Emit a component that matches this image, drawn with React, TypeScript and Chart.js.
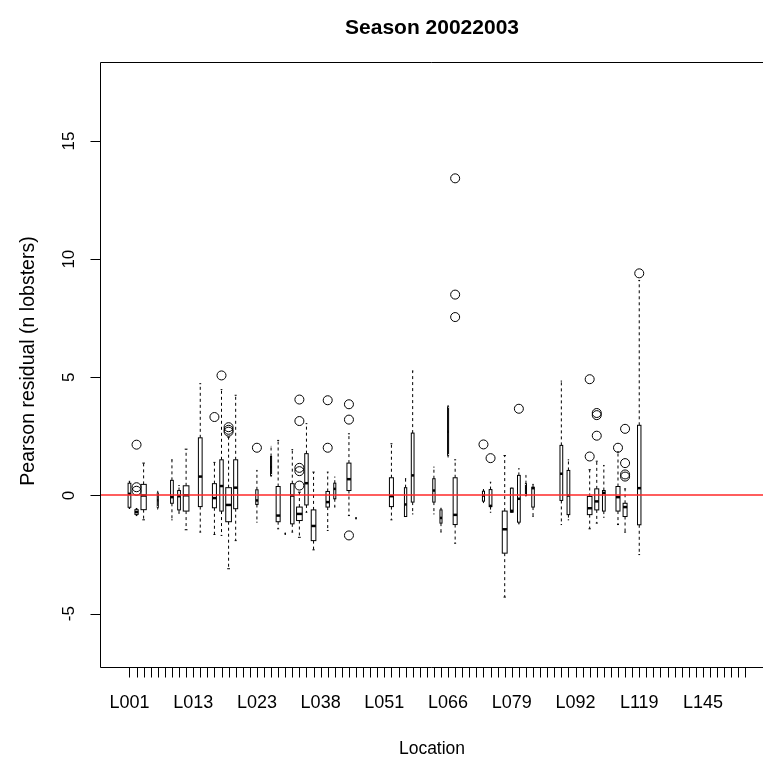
import React, { useEffect, useRef } from "react";
import { Chart, registerables } from "chart.js";

Chart.register(...registerables);

// ---------- DATA ----------
const locations = [
  "L001", "L002", "L003", "L004", "L006", "L007", "L008", "L010", "L011",
  "L013", "L014", "L015", "L016", "L017", "L018", "L019", "L020", "L021",
  "L023", "L025", "L026", "L028", "L029", "L031", "L032", "L034", "L036",
  "L038", "L039", "L041", "L042", "L044", "L045", "L047", "L048", "L049",
  "L051", "L052", "L054", "L056", "L057", "L059", "L060", "L062", "L064",
  "L066", "L067", "L069", "L070", "L072", "L073", "L075", "L076", "L077",
  "L079", "L080", "L082", "L083", "L085", "L086", "L088", "L089", "L091",
  "L092", "L095", "L098", "L101", "L104", "L107", "L110", "L113", "L116",
  "L119", "L122", "L125", "L128", "L131", "L134", "L137", "L140", "L143",
  "L145", "L147", "L149", "L151", "L153", "L155", "L157",
];

const xTickLabels = ["L001", "L013", "L023", "L038", "L051", "L066", "L079", "L092", "L119", "L145"];
const yTickValues = [-5, 0, 5, 10, 15];
const referenceLines = [0];

const boxLocations = [
  "L001", "L002", "L003", "L006", "L008", "L010", "L011",
  "L014", "L016", "L017", "L018", "L019",
  "L023", "L026", "L028", "L029", "L031", "L032", "L034", "L036",
  "L039", "L041", "L044", "L045",
  "L052", "L056", "L057", "L062", "L064",
  "L066", "L067", "L073", "L075", "L077",
  "L079", "L080", "L082", "L083", "L089", "L091",
  "L098", "L101", "L104", "L110", "L113", "L119",
];
const whiskerLow = [
  -0.55, -0.85, -1.03, -0.58, -1.03, -0.75, -1.45,
  -1.55, -1.65, -1.69, -3.1, -1.91,
  -1.13, 0.8, -1.41, -1.62, -1.55, -1.77, -0.71, -2.3,
  -1.48, -0.49, -0.85, -0.96,
  -1.03, -0.89, -0.78, -0.78, -1.55,
  1.62, -2.02, -0.3, -0.71, -4.3,
  -0.71, -1.2, -0.03, -0.89, -1.23, -1.03,
  -1.41, -1.17, -0.92, -1.23, -1.55, -2.5,
];
const lowerQuartile = [
  -0.5, -0.8, -0.6, -0.5, -0.33, -0.61, -0.66,
  -0.47, -0.52, -0.66, -1.11, -0.56,
  -0.38, 0.85, -1.11, -1.62, -1.2, -1.06, -0.4, -1.91,
  -0.49, -0.14, 0.21, -0.96,
  -0.47, -0.89, -0.28, -0.28, -1.17,
  1.7, -1.23, -0.24, -0.47, -2.44,
  -0.71, -1.13, 0.0, -0.49, -0.21, -0.81,
  -0.81, -0.61, -0.66, -0.66, -0.89, -1.24,
];
const medians = [
  0.07, -0.7, 0.0, -0.2, -0.07, -0.03, 0.01,
  0.8, -0.11, 0.4, -0.4, 0.33,
  -0.21, 1.2, -0.85, -1.62, 0.0, -0.78, 0.52, -1.29,
  -0.28, 0.28, 0.69, -0.96,
  -0.03, -0.38, 0.85, 0.21, -0.95,
  2.7, -0.82, 0.0, -0.44, -1.43,
  -0.65, -0.14, 0.3, 0.31, 0.92, 0.0,
  -0.54, -0.25, 0.11, -0.07, -0.49, 0.31,
];
const upperQuartile = [
  0.52, -0.6, 0.47, 0.1, 0.64, 0.21, 0.41,
  2.44, 0.5, 1.51, 0.33, 1.51,
  0.24, 1.65, 0.38, -1.62, 0.5, -0.49, 1.77, -0.61,
  0.17, 0.52, 1.37, -0.96,
  0.75, 0.33, 2.64, 0.71, -0.61,
  3.75, 0.75, 0.18, 0.25, -0.66,
  0.31, 0.85, 0.5, 0.35, 2.12, 1.06,
  -0.04, 0.28, 0.21, 0.38, -0.33, 2.97,
];
const whiskerHigh = [
  0.6, -0.55, 1.37, 0.18, 1.51, 0.42, 1.96,
  4.73, 1.4, 4.48, 2.47, 4.24,
  1.06, 2.08, 2.33, -1.62, 1.94, 0.14, 3.04, 0.99,
  0.99, 0.78, 2.61, -0.96,
  2.19, 0.71, 5.27, 1.2, -0.54,
  3.81, 1.51, 0.25, 0.56, 1.69,
  0.31, 1.13, 0.85, 0.47, 4.84, 1.51,
  1.09, 1.45, 1.27, 1.84, 0.28, 9.1,
];
const sampleSizes = [
  7, 10, 26, 1, 7, 7, 30,
  13, 15, 11, 30, 15,
  5, 1, 15, 1, 11, 30, 11, 20,
  11, 4, 15, 1,
  15, 5, 7, 5, 4,
  1, 15, 4, 7, 22,
  7, 7, 1, 6, 7, 7,
  20, 15, 7, 15, 15, 11,
];

const outlierLocations = [
  "L002", "L002", "L002", "L016", "L017", "L018", "L018", "L018", "L023",
  "L032", "L032", "L032", "L032", "L032", "L039", "L039",
  "L044", "L044", "L044", "L067", "L067", "L067", "L073", "L075", "L080",
  "L098", "L098", "L101", "L101", "L101", "L110",
  "L113", "L113", "L113", "L113", "L119",
];
const outlierValues = [
  2.15, 0.35, 0.2, 3.32, 5.08, 2.89, 2.78, 2.7, 2.02,
  4.06, 3.15, 1.17, 1.03, 0.42, 4.03, 2.02,
  3.86, 3.21, -1.69, 13.42, 8.5, 7.55, 2.16, 1.58, 3.67,
  4.92, 1.65, 3.49, 3.4, 2.53, 2.02,
  2.82, 1.37, 0.89, 0.8, 9.4,
];

const chartTitle = "Season 20022003";
const xTitle = "Location";
const yTitle = "Pearson residual (n lobsters)";

// ---------- DRAWING ----------
const FONT = "'Liberation Sans', Arial, sans-serif";

const boxPlugin = {
  id: "rBoxplot",
  beforeDatasetsDraw(chart: any) {
    const { ctx, scales } = chart;
    const x = scales.x;
    const y = scales.y;
    const step = x.getPixelForValue(1) - x.getPixelForValue(0);
    const maxN = Math.max(...sampleSizes);
    ctx.save();
    boxLocations.forEach((loc, i) => {
      const idx = locations.indexOf(loc);
      const cx = x.getPixelForValue(idx);
      const w = 0.8 * step * Math.sqrt(sampleSizes[i] / maxN);
      const yLo = y.getPixelForValue(whiskerLow[i]);
      const yQ1 = y.getPixelForValue(lowerQuartile[i]);
      const yMed = y.getPixelForValue(medians[i]);
      const yQ3 = y.getPixelForValue(upperQuartile[i]);
      const yHi = y.getPixelForValue(whiskerHigh[i]);
      ctx.strokeStyle = "#000";
      ctx.lineWidth = 1;
      // whiskers (dashed)
      ctx.setLineDash([3, 3]);
      ctx.beginPath();
      ctx.moveTo(cx, yQ1);
      ctx.lineTo(cx, yLo);
      ctx.moveTo(cx, yQ3);
      ctx.lineTo(cx, yHi);
      ctx.stroke();
      ctx.setLineDash([]);
      // staples
      ctx.beginPath();
      ctx.moveTo(cx - w / 4, yLo);
      ctx.lineTo(cx + w / 4, yLo);
      ctx.moveTo(cx - w / 4, yHi);
      ctx.lineTo(cx + w / 4, yHi);
      ctx.stroke();
      // box
      ctx.fillStyle = "#fff";
      ctx.fillRect(cx - w / 2, yQ3, w, yQ1 - yQ3);
      ctx.strokeRect(cx - w / 2, yQ3, w, yQ1 - yQ3);
      // median
      ctx.lineWidth = 2.5;
      ctx.beginPath();
      ctx.moveTo(cx - w / 2, yMed);
      ctx.lineTo(cx + w / 2, yMed);
      ctx.stroke();
    });
    ctx.restore();
  },
  afterDatasetsDraw(chart: any) {
    const { ctx, chartArea, scales } = chart;
    const y = scales.y;
    ctx.save();
    ctx.strokeStyle = "rgb(255,40,40)";
    ctx.lineWidth = 1.5;
    ctx.beginPath();
    referenceLines.forEach((v) => {
      const py = Math.floor(y.getPixelForValue(v));
      ctx.moveTo(chartArea.left, py);
      ctx.lineTo(chartArea.right, py);
    });
    ctx.stroke();
    ctx.restore();
  },
  afterDraw(chart: any) {
    const { ctx, chartArea, scales } = chart;
    const x = scales.x;
    const y = scales.y;
    const L = chartArea.left - 0.5;
    const T = chartArea.top - 0.5;
    const B = chartArea.bottom + 0.5;
    const R = chart.width;
    ctx.save();
    ctx.strokeStyle = "#000";
    ctx.lineWidth = 1;
    // frame (right side lies beyond the picture)
    ctx.beginPath();
    ctx.moveTo(R, T);
    ctx.lineTo(L, T);
    ctx.lineTo(L, B);
    ctx.lineTo(R, B);
    ctx.stroke();
    // y ticks
    ctx.beginPath();
    yTickValues.forEach((v) => {
      const py = Math.round(y.getPixelForValue(v)) + 0.5;
      ctx.moveTo(L, py);
      ctx.lineTo(L - 10, py);
    });
    // x ticks
    locations.forEach((_, i) => {
      const px = Math.round(x.getPixelForValue(i)) + 0.5;
      ctx.moveTo(px, B);
      ctx.lineTo(px, B + 10);
    });
    ctx.stroke();

    ctx.fillStyle = "#000";
    ctx.font = `17px ${FONT}`;
    // y tick labels (rotated)
    yTickValues.forEach((v) => {
      const py = y.getPixelForValue(v);
      ctx.save();
      ctx.translate(74, py);
      ctx.rotate(-Math.PI / 2);
      ctx.textAlign = "center";
      ctx.textBaseline = "alphabetic";
      ctx.fillText(String(v), 0, 0);
      ctx.restore();
    });
    // x tick labels
    ctx.font = `18px ${FONT}`;
    ctx.textAlign = "center";
    ctx.textBaseline = "alphabetic";
    locations.forEach((loc, i) => {
      if (xTickLabels.includes(loc)) {
        ctx.fillText(loc, x.getPixelForValue(i), 708);
      }
    });
    const midX = (chartArea.left + chart.width) / 2;
    // x title
    ctx.font = `17.5px ${FONT}`;
    ctx.fillText(xTitle, midX, 754);
    // y title
    ctx.save();
    ctx.font = `19.5px ${FONT}`;
    ctx.translate(34, (chartArea.top + chartArea.bottom) / 2 - 4);
    ctx.rotate(-Math.PI / 2);
    ctx.fillText(yTitle, 0, 0);
    ctx.restore();
    // main title
    ctx.font = `bold 21px ${FONT}`;
    ctx.fillText(chartTitle, midX, 34);
    ctx.restore();
  },
};

export default function App() {
  const ref = useRef<HTMLCanvasElement | null>(null);

  useEffect(() => {
    document.body.style.margin = "0";
    const canvas = ref.current;
    if (!canvas) return;
    const outlierPoints = outlierLocations.map((loc, i) => ({
      x: locations.indexOf(loc),
      y: outlierValues[i],
    }));
    const chart = new Chart(canvas, {
      type: "scatter",
      data: {
        datasets: [
          {
            label: "outliers",
            data: outlierPoints,
            pointStyle: "circle",
            pointRadius: 4.5,
            borderColor: "#000",
            backgroundColor: "rgba(0,0,0,0)",
            borderWidth: 1,
          },
        ],
      } as any,
      options: {
        responsive: false,
        animation: false,
        devicePixelRatio: 1,
        layout: { autoPadding: false, padding: { left: 101, top: 63, right: 0, bottom: 94 } },
        scales: {
          x: { type: "linear", display: false, min: -4.02, max: 89.48 },
          y: { type: "linear", display: false, min: -7.2575, max: 18.3 },
        },
        plugins: {
          legend: { display: false },
          tooltip: { enabled: false },
          title: { display: false },
        },
      } as any,
      plugins: [boxPlugin],
    });
    return () => chart.destroy();
  }, []);

  return (
    <canvas
      ref={ref}
      width={763}
      height={761}
      style={{ display: "block", width: "763px", height: "761px" }}
    />
  );
}
